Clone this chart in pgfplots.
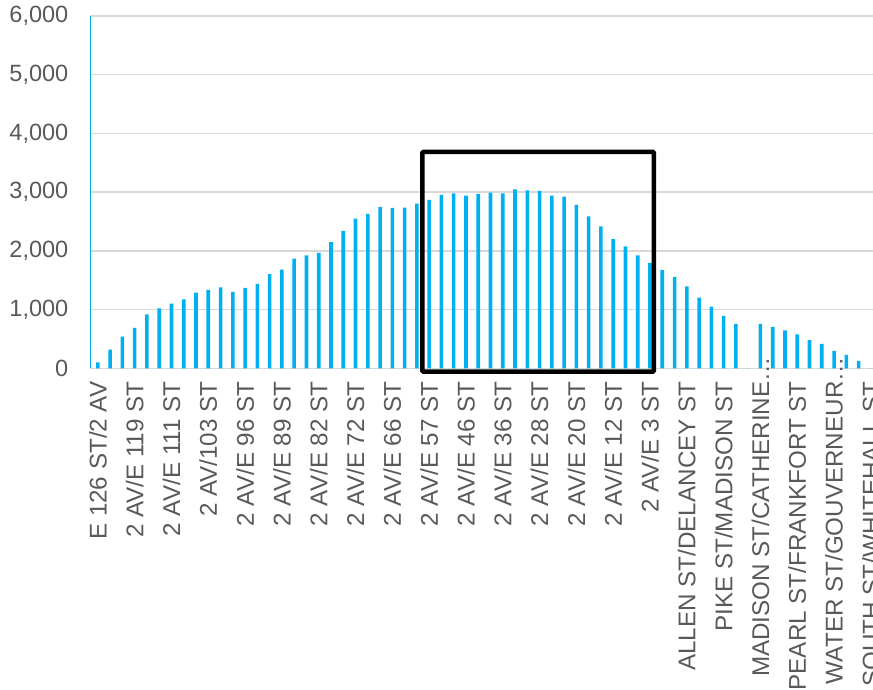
\documentclass[border=0pt]{standalone}
\usepackage{fontspec}
\setmainfont{Liberation Sans}
\usepackage{pgfplots}
\pgfplotsset{compat=1.18}
\definecolor{barblue}{HTML}{00B0F0}
\definecolor{gridgray}{HTML}{D9D9D9}
\definecolor{labelgray}{HTML}{595959}
\begin{document}
\begin{tikzpicture}
\begin{axis}[
  at={(0,0)}, anchor=south west,
  scale only axis, width=786.5pt, height=352.3pt,
  xmin=-0.6, xmax=63.5, ymin=0, ymax=6000,
  ytick={0,1000,...,6000},
  xtick={0,3,...,63},
  xticklabels={E 126 ST/2 AV, 2 AV/E 119 ST, 2 AV/E 111 ST, 2 AV/103 ST, 2 AV/E 96 ST, 2 AV/E 89 ST, 2 AV/E 82 ST, 2 AV/E 72 ST, 2 AV/E 66 ST, 2 AV/E 57 ST, 2 AV/E 46 ST, 2 AV/E 36 ST, 2 AV/E 28 ST, 2 AV/E 20 ST, 2 AV/E 12 ST, 2 AV/E 3 ST, ALLEN ST/DELANCEY ST, PIKE ST/MADISON ST, MADISON ST/CATHERINE\rlap{…}, PEARL ST/FRANKFORT ST, WATER ST/GOUVERNEUR\rlap{…}, SOUTH ST/WHITEHALL ST},
  scaled y ticks=false,
  axis x line*=bottom, axis y line*=left,
  axis line style={-},
  x axis line style={-, gridgray, line width=1.5pt},
  y axis line style={-, barblue, line width=1.8pt},
  ymajorgrids, grid style={gridgray, line width=1.5pt},
  major tick length=0pt, tick style={draw=none},
  yticklabel style={font=\fontsize{23.5}{28}\selectfont, text=labelgray, /pgf/number format/1000 sep={,}, anchor=east, inner sep=0pt, xshift=-22pt},
  /pgf/number format/assume math mode=true,
  xticklabel style={font=\fontsize{24.2}{29}\selectfont, text=labelgray, rotate=90, anchor=east, inner xsep=13pt, inner ysep=0pt},
  clip=false,
]
\addplot[ybar, bar width=3.6pt, fill=barblue, draw=none] coordinates {
(0,100) (1,320) (2,540) (3,690) (4,920) (5,1020) (6,1100) (7,1175) (8,1290) (9,1334)
(10,1380) (11,1300) (12,1368) (13,1436) (14,1606) (15,1680) (16,1867) (17,1925) (18,1964) (19,2147)
(20,2339) (21,2549) (22,2629) (23,2748) (24,2731) (25,2736) (26,2804) (27,2867) (28,2952) (29,2981)
(30,2941) (31,2969) (32,2992) (33,2981) (34,3049) (35,3032) (36,3020) (37,2941) (38,2924) (39,2782)
(40,2589) (41,2419) (42,2198) (43,2078) (44,1925) (45,1794) (46,1675) (47,1555) (48,1397) (49,1203)
(50,1049) (51,891) (52,755) (53,0) (54,755) (55,704) (56,647) (57,579) (58,482) (59,414)
(60,295) (61,227) (62,124) (63,0)
};
\draw[black, line width=4.5pt, rounded corners=1pt] (axis cs:26.45,-55) rectangle (axis cs:45.31,3685);
\end{axis}
\pgfresetboundingbox
\useasboundingbox (-90.5pt,-321.7pt) rectangle (782.5pt,368.3pt);
\end{tikzpicture}
\end{document}
